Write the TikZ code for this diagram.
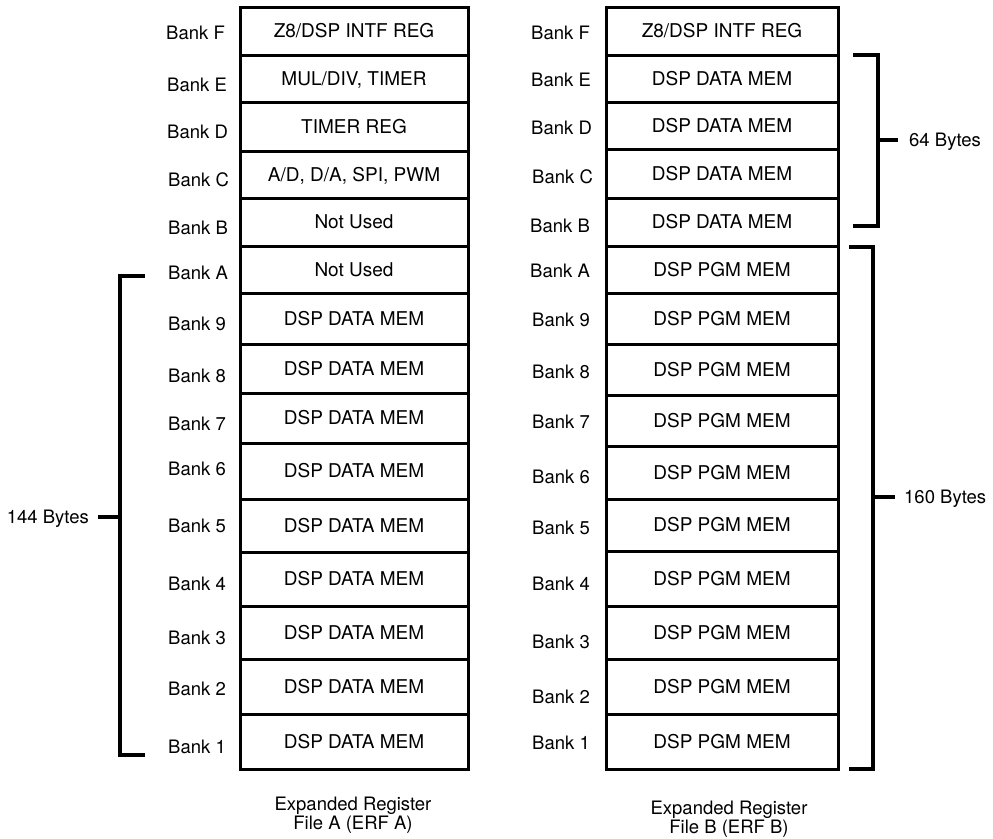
\documentclass[tikz,border=0pt]{standalone}
\usepackage{fontspec}
\setmainfont{TeX Gyre Heros}
\begin{document}
\begin{tikzpicture}[x=1pt,y=-1pt,
  rowA/.style={draw, line width=3pt, minimum width=228pt, inner sep=0pt,
    text height=13.6pt, text depth=0pt, font=\fontsize{19}{20}\selectfont},
  rowB/.style={rowA, minimum width=232pt},
  bank/.style={anchor=west, inner sep=0pt, text height=13.2pt, text depth=0pt,
    font=\fontsize{18.5}{20}\selectfont},
  bytes/.style={inner sep=0pt, text height=13.2pt, text depth=0pt,
    font=\fontsize{18.5}{20}\selectfont},
  caption/.style={align=center, inner sep=0pt, font=\fontsize{18.5}{19}\selectfont},
  brk/.style={line width=3.2pt}]
\useasboundingbox (0,0) rectangle (993,838);
% ---- left column (ERF A)
\node[rowA, minimum height=48pt] (aF) at (354,31) {Z8/DSP INTF REG};
\node[rowA, minimum height=47pt] (aE) at (354,78.5) {MUL/DIV, TIMER};
\node[rowA, minimum height=49pt] (aD) at (354,126.5) {TIMER REG};
\node[rowA, minimum height=47pt] (aC) at (354,174.5) {A/D, D/A, SPI, PWM};
\node[rowA, minimum height=48pt] (aB) at (354,222) {Not Used};
\node[rowA, minimum height=47pt] (aA) at (354,269.5) {Not Used};
\node[rowA, minimum height=51pt] (a9) at (354,318.5) {DSP DATA MEM};
\node[rowA, minimum height=49pt] (a8) at (354,368.5) {DSP DATA MEM};
\node[rowA, minimum height=50pt] (a7) at (354,418) {DSP DATA MEM};
\node[rowA, minimum height=56pt] (a6) at (354,471) {DSP DATA MEM};
\node[rowA, minimum height=53pt] (a5) at (354,525.5) {DSP DATA MEM};
\node[rowA, minimum height=54pt] (a4) at (354,579) {DSP DATA MEM};
\node[rowA, minimum height=53pt] (a3) at (354,632.5) {DSP DATA MEM};
\node[rowA, minimum height=55pt] (a2) at (354,686.5) {DSP DATA MEM};
\node[rowA, minimum height=55pt] (a1) at (354,741.5) {DSP DATA MEM};
% ---- right column (ERF B)
\node[rowB, minimum height=48pt] (bF) at (722,31) {Z8/DSP INTF REG};
\node[rowB, minimum height=47pt] (bE) at (722,78.5) {DSP DATA MEM};
\node[rowB, minimum height=47pt] (bD) at (722,125.5) {DSP DATA MEM};
\node[rowB, minimum height=49pt] (bC) at (722,173.5) {DSP DATA MEM};
\node[rowB, minimum height=48pt] (bB) at (722,222) {DSP DATA MEM};
\node[rowB, minimum height=47pt] (bA) at (722,269.5) {DSP PGM MEM};
\node[rowB, minimum height=51pt] (b9) at (722,318.5) {DSP PGM MEM};
\node[rowB, minimum height=51pt] (b8) at (722,369.5) {DSP PGM MEM};
\node[rowB, minimum height=51pt] (b7) at (722,420.5) {DSP PGM MEM};
\node[rowB, minimum height=53pt] (b6) at (722,472.5) {DSP PGM MEM};
\node[rowB, minimum height=52pt] (b5) at (722,525) {DSP PGM MEM};
\node[rowB, minimum height=55pt] (b4) at (722,578.5) {DSP PGM MEM};
\node[rowB, minimum height=53pt] (b3) at (722,632.5) {DSP PGM MEM};
\node[rowB, minimum height=55pt] (b2) at (722,686.5) {DSP PGM MEM};
\node[rowB, minimum height=55pt] (b1) at (722,741.5) {DSP PGM MEM};
% ---- bank labels left
\node[bank] (laF) at (166,33) {Bank F};
\node[bank] (laE) at (167,85) {Bank E};
\node[bank] (laD) at (167,132) {Bank D};
\node[bank] (laC) at (168,180) {Bank C};
\node[bank] (laB) at (168,228) {Bank B};
\node[bank] (laA) at (168,273) {Bank A};
\node[bank] (la9) at (168,324) {Bank 9};
\node[bank] (la8) at (168,376) {Bank 8};
\node[bank] (la7) at (168,424) {Bank 7};
\node[bank] (la6) at (168,469) {Bank 6};
\node[bank] (la5) at (168,526) {Bank 5};
\node[bank] (la4) at (168,584) {Bank 4};
\node[bank] (la3) at (168,638) {Bank 3};
\node[bank] (la2) at (168,689) {Bank 2};
\node[bank] (la1) at (168,747) {Bank 1};
% ---- bank labels right
\node[bank] (lbF) at (531,33) {Bank F};
\node[bank] (lbE) at (531,80) {Bank E};
\node[bank] (lbD) at (531,128) {Bank D};
\node[bank] (lbC) at (532,177) {Bank C};
\node[bank] (lbB) at (530,226) {Bank B};
\node[bank] (lbA) at (530,271) {Bank A};
\node[bank] (lb9) at (532,320) {Bank 9};
\node[bank] (lb8) at (532,372) {Bank 8};
\node[bank] (lb7) at (532,422) {Bank 7};
\node[bank] (lb6) at (532,477) {Bank 6};
\node[bank] (lb5) at (532,528) {Bank 5};
\node[bank] (lb4) at (532,584) {Bank 4};
\node[bank] (lb3) at (532,642) {Bank 3};
\node[bank] (lb2) at (532,697) {Bank 2};
\node[bank] (lb1) at (532,743) {Bank 1};
% ---- captions
\node[caption] (capA) at (353,815) {Expanded Register\\File A (ERF A)};
\node[caption] (capB) at (729,819) {Expanded Register\\File B (ERF B)};
% ---- brackets
\coordinate (l1) at (145,276);
\coordinate (l2) at (120,276);
\coordinate (l3) at (120,755);
\coordinate (l4) at (145,755);
\coordinate (lm) at (120,517);
\node[bytes, anchor=east, inner xsep=9pt] (b144) at (98,517) {144 Bytes};
\draw[brk] (l1) -- (l2) -- (l3) -- (l4);
\draw[brk] (lm) -- (b144.east);
\coordinate (r1) at (853,55);
\coordinate (r2) at (878,55);
\coordinate (r3) at (878,226);
\coordinate (r4) at (853,226);
\coordinate (rm) at (878,140);
\node[bytes, anchor=west, inner xsep=11pt] (b64) at (898,140) {64 Bytes};
\draw[brk] (r1) -- (r2) -- (r3) -- (r4);
\draw[brk] (rm) -- (b64.west);
\coordinate (s1) at (849,247);
\coordinate (s2) at (873,247);
\coordinate (s3) at (873,769);
\coordinate (s4) at (849,769);
\coordinate (sm) at (873,497);
\node[bytes, anchor=west, inner xsep=9pt] (b160) at (895,497) {160 Bytes};
\draw[brk] (s1) -- (s2) -- (s3) -- (s4);
\draw[brk] (sm) -- (b160.west);
\end{tikzpicture}
\end{document}
